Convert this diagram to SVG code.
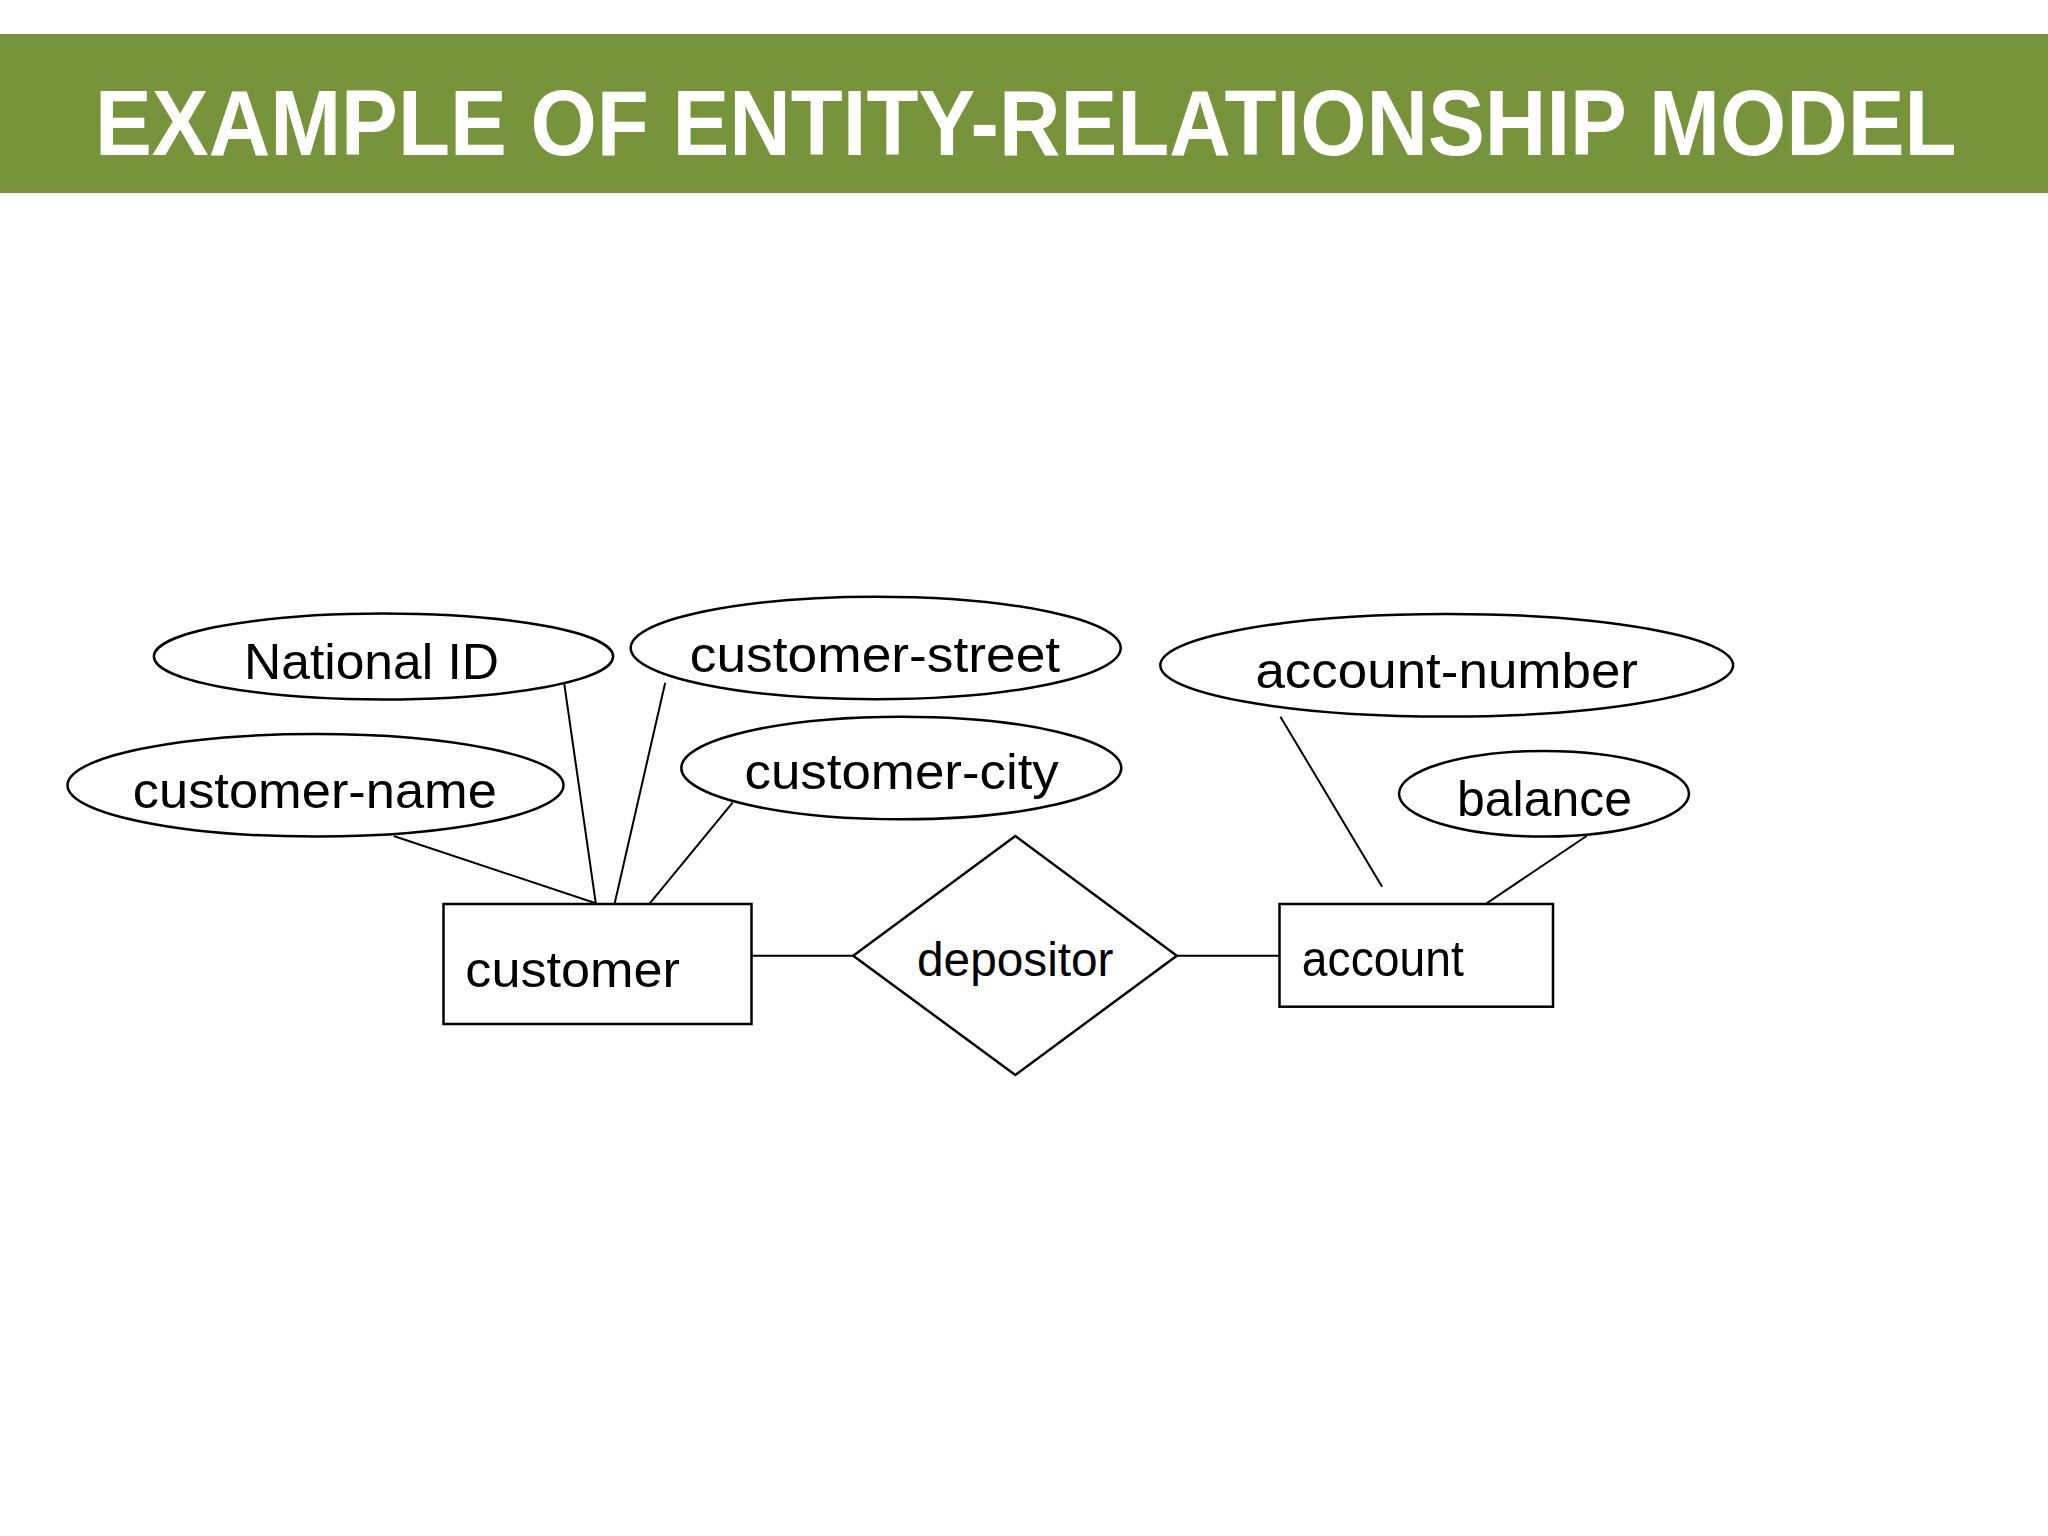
<svg xmlns="http://www.w3.org/2000/svg" width="2048" height="1536" viewBox="0 0 2048 1536">
<style>
.shape{fill:#ffffff;stroke:#000000;stroke-width:2.5}
.conn{stroke:#000000;stroke-width:2;fill:none}
.lbl{font-family:"Liberation Sans",Arial,sans-serif;font-size:50px;fill:#000000}
.title{font-family:"Liberation Sans",Arial,sans-serif;font-weight:bold;font-size:92px;fill:#ffffff}
</style>
<rect x="0" y="0" width="2048" height="1536" fill="#ffffff"/>
<g id="banner">
<rect x="0" y="34" width="2048" height="159" fill="#77933C"/>
<text class="title" x="0" y="0" transform="translate(95,155) scale(0.926,1)">EXAMPLE OF ENTITY-RELATIONSHIP MODEL</text>
</g>
<g id="connectors">
<line class="conn" x1="393.7" y1="836" x2="595.8" y2="903.3"/>
<line class="conn" x1="564.2" y1="683.3" x2="595.8" y2="903.3"/>
<line class="conn" x1="665.2" y1="682.7" x2="614.7" y2="903.3"/>
<line class="conn" x1="732.6" y1="802.7" x2="649.8" y2="903.3"/>
<line class="conn" x1="751.5" y1="955.7" x2="853.2" y2="955.7"/>
<line class="conn" x1="1176.8" y1="955.7" x2="1279.5" y2="955.7"/>
<line class="conn" x1="1280.4" y1="716.7" x2="1382.1" y2="886.7"/>
<line class="conn" x1="1586.6" y1="836" x2="1486.6" y2="903.3"/>
</g>
<g id="national-id">
<ellipse class="shape" cx="383.5" cy="656.5" rx="229.6" ry="43"/>
<text class="lbl" x="244" y="679.3" textLength="255" lengthAdjust="spacingAndGlyphs">National ID</text>
</g>
<g id="customer-street">
<ellipse class="shape" cx="875.7" cy="648" rx="245" ry="51.3"/>
<text class="lbl" x="689.8" y="671.5" textLength="370.4" lengthAdjust="spacingAndGlyphs">customer-street</text>
</g>
<g id="customer-name">
<ellipse class="shape" cx="315.5" cy="785.3" rx="248" ry="51.3"/>
<text class="lbl" x="132.8" y="807.7" textLength="364.1" lengthAdjust="spacingAndGlyphs">customer-name</text>
</g>
<g id="customer-city">
<ellipse class="shape" cx="901.3" cy="768" rx="220" ry="51.3"/>
<text class="lbl" x="744.5" y="789.3" textLength="314.3" lengthAdjust="spacingAndGlyphs">customer-city</text>
</g>
<g id="customer">
<rect class="shape" x="443.5" y="904" width="308" height="120"/>
<text class="lbl" x="465.3" y="986.7" textLength="214.7" lengthAdjust="spacingAndGlyphs">customer</text>
</g>
<g id="depositor">
<polygon class="shape" points="853.2,955.7 1015.3,836 1176.8,955.7 1015.3,1075"/>
<text class="lbl" style="font-size:48px" x="917" y="975.7" textLength="196.5" lengthAdjust="spacingAndGlyphs">depositor</text>
</g>
<g id="account-number">
<ellipse class="shape" cx="1446.7" cy="665.3" rx="286.4" ry="51.3"/>
<text class="lbl" x="1255.4" y="688.3" textLength="382.6" lengthAdjust="spacingAndGlyphs">account-number</text>
</g>
<g id="balance">
<ellipse class="shape" cx="1544" cy="793.8" rx="145" ry="42.8"/>
<text class="lbl" x="1457" y="816" textLength="175" lengthAdjust="spacingAndGlyphs">balance</text>
</g>
<g id="account">
<rect class="shape" x="1279.5" y="904" width="273.5" height="102.7"/>
<text class="lbl" x="1301.8" y="976" textLength="162" lengthAdjust="spacingAndGlyphs">account</text>
</g>
</svg>
